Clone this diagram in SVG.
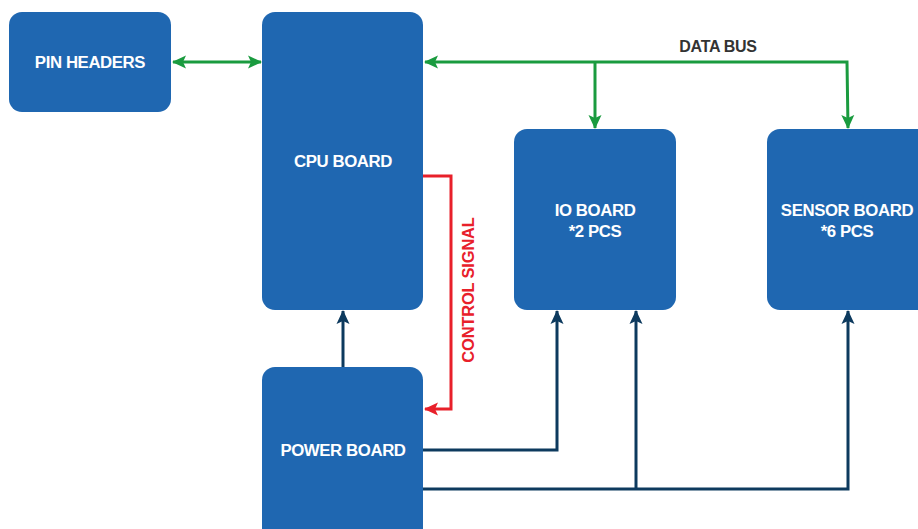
<svg xmlns="http://www.w3.org/2000/svg" width="918" height="529" viewBox="0 0 918 529">
<style>
.box{fill:#1f67b1}
.lbl{fill:#ffffff;font-family:"Liberation Sans",Arial,sans-serif;font-weight:bold;font-size:16.8px;text-anchor:middle;letter-spacing:-0.4px}
.g{stroke:#1a9b3f;stroke-width:3;fill:none}
.r{stroke:#e8202a;stroke-width:3;fill:none}
.n{stroke:#0d3a5e;stroke-width:3;fill:none}
</style>
<defs>
<marker id="ag" markerUnits="userSpaceOnUse" markerWidth="16" markerHeight="16" refX="13" refY="8" orient="auto-start-reverse"><path d="M0,1.5 L14,8 L0,14.5 L3,8 Z" fill="#1a9b3f"/></marker>
<marker id="ar" markerUnits="userSpaceOnUse" markerWidth="16" markerHeight="16" refX="13" refY="8" orient="auto"><path d="M0,1.5 L14,8 L0,14.5 L3,8 Z" fill="#e8202a"/></marker>
<marker id="an" markerUnits="userSpaceOnUse" markerWidth="16" markerHeight="16" refX="13" refY="8" orient="auto"><path d="M0,1.5 L14,8 L0,14.5 L3,8 Z" fill="#0d3a5e"/></marker>
</defs>
<g id="connectors">
<line class="g" x1="173" y1="62" x2="261" y2="62" marker-start="url(#ag)" marker-end="url(#ag)"/>
<path class="g" d="M848,128 L847,62 L425,62" marker-start="url(#ag)" marker-end="url(#ag)"/>
<line class="g" x1="595" y1="62" x2="595" y2="128" marker-end="url(#ag)"/>
<path class="r" d="M423,176 L451,176 L451,409 L425,409" marker-end="url(#ar)"/>
<line class="n" x1="343" y1="367" x2="343" y2="311" marker-end="url(#an)"/>
<path class="n" d="M423,450 L557,450 L557,311" marker-end="url(#an)"/>
<path class="n" d="M423,489 L848,489 L848,311" marker-end="url(#an)"/>
<line class="n" x1="636" y1="489" x2="636" y2="311" marker-end="url(#an)"/>
</g>
<g id="pin-headers"><rect class="box" x="9" y="12" width="162" height="100" rx="13"/><text class="lbl" x="90" y="68">PIN HEADERS</text></g>
<g id="cpu-board"><rect class="box" x="262" y="12" width="161" height="298" rx="13"/><text class="lbl" x="343" y="167">CPU BOARD</text></g>
<g id="io-board"><rect class="box" x="514" y="129" width="162" height="181" rx="13"/><text class="lbl" x="595" y="216">IO BOARD</text><text class="lbl" x="595" y="237">*2 PCS</text></g>
<g id="sensor-board"><rect class="box" x="767" y="129" width="170" height="181" rx="13"/><text class="lbl" x="847" y="216">SENSOR BOARD</text><text class="lbl" x="847" y="237">*6 PCS</text></g>
<g id="power-board"><rect class="box" x="262" y="367" width="161" height="180" rx="13"/><text class="lbl" x="343" y="456">POWER BOARD</text></g>
<text x="718" y="52" font-family="Liberation Sans,Arial,sans-serif" font-weight="bold" font-size="16" fill="#333333" text-anchor="middle" letter-spacing="-0.3">DATA BUS</text>
<text transform="translate(474,290) rotate(-90)" font-family="Liberation Sans,Arial,sans-serif" font-weight="bold" font-size="16.5" fill="#e8202a" text-anchor="middle" letter-spacing="-0.2">CONTROL SIGNAL</text>
</svg>
